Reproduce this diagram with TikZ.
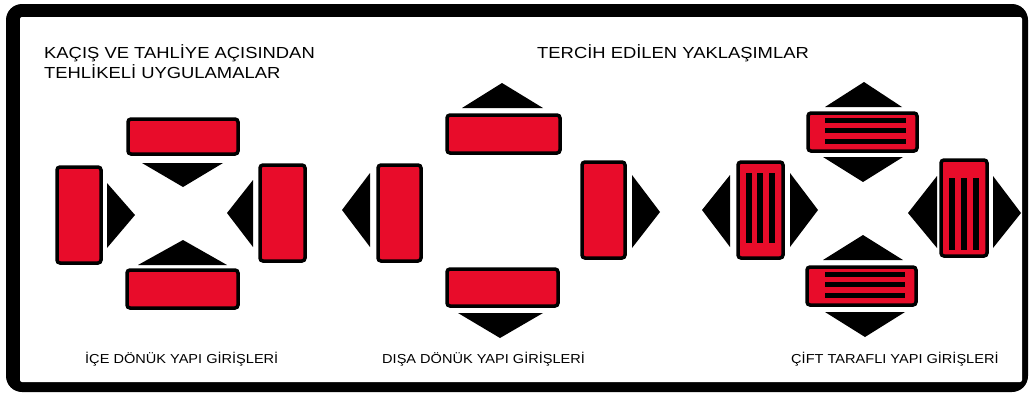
\documentclass[tikz,border=0pt]{standalone}
\usepackage{fontspec}
\setmainfont{Liberation Sans}
\newfontfamily\titlefont[FakeStretch=1.15]{Liberation Sans}
\newfontfamily\capfont[FakeStretch=1.12]{Liberation Sans}
\definecolor{boxred}{RGB}{232,12,42}
\begin{document}
\begin{tikzpicture}[x=1pt,y=-1pt,
  rbox/.style={draw=black,fill=boxred,line width=3.5pt,rounded corners=3pt},
  bar/.style={draw=black,line width=5pt},
  vbar/.style={draw=black,line width=6pt},
  tri/.style={fill=black},
  titletxt/.style={anchor=base west,inner sep=0pt,font=\titlefont\fontsize{16}{19}\selectfont},
  captxt/.style={anchor=base west,inner sep=0pt,font=\capfont\fontsize{13}{15}\selectfont}]
\useasboundingbox (0,0) rectangle (1030,392);
\fill[white] (0,0) rectangle (1030,392);
% frame
\fill[black,rounded corners=16pt] (6,4) rectangle (1028,392);
\fill[white,rounded corners=2pt] (20,17) rectangle (1022,382);
% titles
\node[titletxt] (t1a) at (44,58) {KAÇIŞ VE TAHLİYE AÇISINDAN};
\node[titletxt] (t1b) at (44,78) {TEHLİKELİ UYGULAMALAR};
\node[titletxt] (t2) at (537,58) {TERCİH EDİLEN YAKLAŞIMLAR};
% captions
\node[captxt] (c1) at (85,363) {İÇE DÖNÜK YAPI GİRİŞLERİ};
\node[captxt] (c2) at (382,363) {DIŞA DÖNÜK YAPI GİRİŞLERİ};
\node[captxt] (c3) at (791,363) {ÇİFT TARAFLI YAPI GİRİŞLERİ};
% panel 1
\draw[rbox] (128,119) rectangle (238,154);
\draw[rbox] (57,167) rectangle (101,263);
\draw[rbox] (260,165) rectangle (305,261);
\draw[rbox] (127,270) rectangle (238,308);
\fill[tri] (142,163) -- (223,163) -- (183,187) -- cycle;
\fill[tri] (107,183) -- (107,248) -- (135,215) -- cycle;
\fill[tri] (253,180) -- (253,247) -- (227,213) -- cycle;
\fill[tri] (138,265) -- (227,265) -- (183,240) -- cycle;
% panel 2
\fill[tri] (462,108) -- (543,108) -- (502,83) -- cycle;
\draw[rbox] (447,115) rectangle (560,153);
\draw[rbox] (378,165) rectangle (421,261);
\fill[tri] (370,173) -- (370,247) -- (342,210) -- cycle;
\draw[rbox] (582,162) rectangle (625,258);
\fill[tri] (632,175) -- (632,248) -- (660,212) -- cycle;
\draw[rbox] (447,269) rectangle (558,306);
\fill[tri] (458,313) -- (543,313) -- (500,338) -- cycle;
% panel 3 top
\fill[tri] (825,107) -- (902,107) -- (864,82) -- cycle;
\draw[rbox] (808,113) rectangle (917,151);
\draw[bar] (825,120) -- (906,120);
\draw[bar] (825,130.5) -- (906,130.5);
\draw[bar] (825,141) -- (906,141);
\fill[tri] (823,157) -- (903,157) -- (863,182) -- cycle;
% panel 3 left
\draw[rbox] (738,162) rectangle (783,258);
\draw[vbar] (748.5,173) -- (748.5,243);
\draw[vbar] (760,173) -- (760,243);
\draw[vbar] (772,173) -- (772,243);
\fill[tri] (730,175) -- (730,247) -- (702,210) -- cycle;
\fill[tri] (790,173) -- (790,247) -- (818,210) -- cycle;
% panel 3 right
\draw[rbox] (941,160) rectangle (987,256);
\draw[vbar] (952,178) -- (952,250);
\draw[vbar] (964,178) -- (964,250);
\draw[vbar] (975.5,178) -- (975.5,250);
\fill[tri] (937,176) -- (937,248) -- (908,213) -- cycle;
\fill[tri] (993,176) -- (993,248) -- (1021,213) -- cycle;
% panel 3 bottom
\fill[tri] (823,260) -- (903,260) -- (863,235) -- cycle;
\draw[rbox] (807,267) rectangle (916,305);
\draw[bar] (825,274.5) -- (905,274.5);
\draw[bar] (825,284.5) -- (905,284.5);
\draw[bar] (825,295.5) -- (905,295.5);
\fill[tri] (825,312) -- (905,312) -- (865,337) -- cycle;
\end{tikzpicture}
\end{document}
